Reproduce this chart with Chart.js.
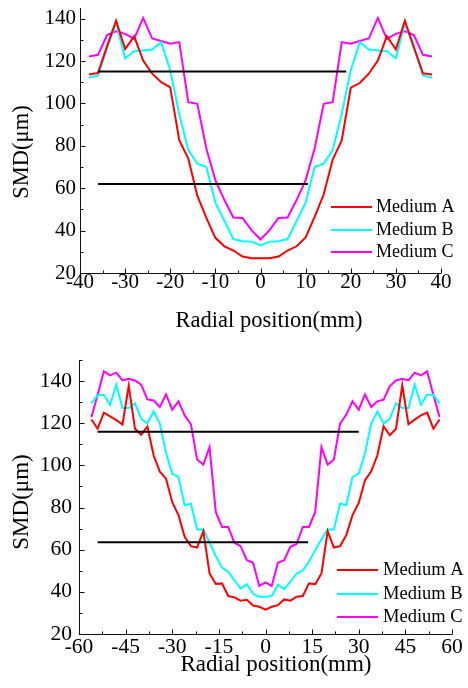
<!DOCTYPE html>
<html>
<head>
<meta charset="utf-8">
<script src="https://cdn.jsdelivr.net/npm/chart.js@4.4.1/dist/chart.umd.min.js"></script>
<style>
  html, body { margin: 0; padding: 0; background: #fff; }
  body { width: 468px; height: 688px; position: relative; overflow: hidden; }
  canvas { position: absolute; left: 0; }
  #chartTop { top: 0; }
  #chartBottom { top: 340px; }
</style>
</head>
<body>
<canvas id="chartTop" width="468" height="340"></canvas>
<canvas id="chartBottom" width="468" height="348"></canvas>
<script>
const seriesNames = ["Medium A", "Medium B", "Medium C"];
const seriesColors = ["#ff0000", "#00ffff", "#ff00ff"];

// upper plot, radial position in mm
const topRadial = [-38, -36, -34, -32, -30, -28, -26, -24, -22, -20, -18, -16, -14, -12, -10, -8, -6, -4, -2, 0,
  2, 4, 6, 8, 10, 12, 14, 16, 18, 20, 22, 24, 26, 28, 30, 32, 34, 36, 38];
const topMediumA = [113.6, 114.4, 127, 139, 125.6, 131.6, 120.2, 114, 110, 107.6, 82.6, 74, 56.5, 46, 36.6, 32.6, 30.6, 27.8, 27, 27,
  27, 27.8, 30.6, 32.6, 36.8, 46.5, 57, 73.5, 82.5, 107.4, 109.6, 114, 120.2, 131.7, 125.4, 139, 126.5, 114.2, 113.6];
const topMediumB = [112.1, 113.2, 126, 137.8, 121.3, 124.6, 125, 125.4, 128.9, 115.5, 95, 78, 71.6, 70, 53.2, 44.5, 36, 35, 34.8, 33,
  34.8, 35, 36, 44.5, 53.2, 70, 71.6, 78, 95, 115.5, 128.9, 125.4, 125, 124.6, 121.3, 137.8, 126, 113.2, 112.1];
const topMediumC = [122.1, 122.9, 132.2, 134, 132.8, 130.4, 140.3, 130.6, 129.4, 128.1, 128.9, 100.6, 99.8, 78.7, 63.8, 54.4, 46.2, 46, 40.2, 35.8,
  40.2, 46, 46.2, 54.4, 63.8, 78.7, 99.8, 100.6, 128.9, 128.1, 129.4, 130.6, 140.3, 130.4, 132.8, 134, 132.2, 122.9, 122.1];
const topRefLevel = [115, 62];
const topRefFrom = [-36, -36];
const topRefTo = [19, 10.5];

// lower plot
const bottomRadial = [-56, -54, -52, -50, -48, -46, -44, -42, -40, -38, -36, -34, -32, -30, -28, -26, -24, -22, -20, -18,
  -16, -14, -12, -10, -8, -6, -4, -2, 0, 2, 4, 6, 8, 10, 12, 14, 16, 18, 20, 22, 24, 26, 28, 30, 32, 34, 36, 38,
  40, 42, 44, 46, 48, 50, 52, 54, 56];
const bottomMediumA = [121.8, 117.4, 125, 123.3, 121.5, 119.4, 137.8, 117.4, 114.5, 118.4, 104.8, 97, 93.7, 82.5, 76.4, 66.1, 61.7, 61, 68.8, 48.7,
  43.7, 44, 38, 37.4, 35.8, 36.2, 33.5, 32.9, 31.5, 32.9, 33.7, 36.4, 35.8, 37.7, 38, 44, 43.6, 48.7, 68.8, 61, 61.7, 66.9, 76.4, 82.2, 92.9, 97.2, 104.8, 118.6,
  114.3, 117.4, 138, 119.5, 121.7, 123.7, 125, 117.4, 121.8];
const bottomMediumB = [129.4, 133.3, 133.5, 128.6, 138.3, 127.2, 127.2, 129.4, 122.2, 119.8, 125.7, 119.8, 106, 96, 94.5, 81.1, 81.9, 69.6, 69.6, 63.5,
  57, 51.5, 49.5, 45.5, 41.5, 43.6, 39, 37.7, 37.7, 38, 43.4, 41.3, 44.8, 48.7, 50.2, 54.3, 59.8, 64.9, 69.6, 69.6, 81.9, 81.1, 94.5, 96.1, 105.6, 119.8, 125.6, 119.8,
  122.2, 129.4, 127.2, 127.2, 138.3, 128.8, 133.5, 133.5, 129.3];
const bottomMediumC = [122.9, 133.5, 144.6, 142.7, 144, 140.3, 141.1, 140.3, 138.3, 131.3, 130.8, 127.7, 133.7, 126.4, 130.4, 123.7, 119.5, 102.8, 100.4, 108.7,
  77.9, 70.8, 70.8, 63.3, 61.7, 55, 53.8, 42.8, 44.5, 42.8, 53.8, 55, 61.4, 62.7, 70.8, 70.8, 77.9, 108.7, 100.4, 102.8, 119.8, 124.1, 130.4, 126.4, 133.7, 127.7, 130.4, 131.2,
  137.6, 140.3, 141.1, 140.3, 144, 142.7, 144.6, 133.5, 122.9];
const bottomRefLevel = [116, 63.5];
const bottomRefFrom = [-54, -54];
const bottomRefTo = [30, 13.7];

const serif = "Liberation Serif";

// axes, inward ticks, titles and the legend box
const smdFrame = {
  id: "smdFrame",
  afterDraw(chart, args, o) {
    const { ctx, chartArea: a, scales } = chart;
    ctx.save();
    ctx.strokeStyle = "#111";
    ctx.lineWidth = 1;
    const L = Math.round(a.left) + 0.5;
    const B = Math.round(a.bottom) + 0.5;
    ctx.beginPath();
    ctx.moveTo(L, a.top);
    ctx.lineTo(L, B);
    ctx.lineTo(a.right, B);
    ctx.stroke();

    const marks = (scale) => {
      const vals = scale.ticks.map((t) => t.value);
      const out = vals.map((v) => [v, 5]);
      const step = vals[1] - vals[0];
      for (let v = vals[0] + step / 2; v <= scale.max; v += step) out.push([v, 3]);
      return out;
    };
    ctx.beginPath();
    marks(scales.x).forEach(([v, len]) => {
      const px = Math.round(scales.x.getPixelForValue(v)) + 0.5;
      ctx.moveTo(px, B);
      ctx.lineTo(px, B - len);
    });
    marks(scales.y).forEach(([v, len]) => {
      const py = Math.round(scales.y.getPixelForValue(v)) + 0.5;
      ctx.moveTo(L, py);
      ctx.lineTo(L + len, py);
    });
    ctx.stroke();

    ctx.fillStyle = "#000";
    ctx.textAlign = "center";
    ctx.textBaseline = "middle";
    ctx.font = `${o.xTitle.size}px "${serif}"`;
    ctx.fillText(o.xTitle.text, o.xTitle.x, o.xTitle.y);
    ctx.save();
    ctx.translate(o.yTitle.x, o.yTitle.y);
    ctx.rotate(-Math.PI / 2);
    ctx.font = `${o.yTitle.size}px "${serif}"`;
    ctx.fillText(o.yTitle.text, 0, 0);
    ctx.restore();

    const lg = o.legend;
    ctx.font = `${lg.size}px "${serif}"`;
    ctx.textAlign = "left";
    ctx.lineWidth = 2;
    seriesNames.forEach((name, i) => {
      const y = lg.rows[i];
      ctx.strokeStyle = seriesColors[i];
      ctx.beginPath();
      ctx.moveTo(lg.x0, y);
      ctx.lineTo(lg.x1, y);
      ctx.stroke();
      ctx.fillText(name, lg.textX, y);
    });
    ctx.restore();
  },
};

function build(canvasId, radial, series, refLevel, refFrom, refTo, cfg) {
  const refSets = refLevel.map((lvl, i) => ({
    label: "",
    data: [{ x: refFrom[i], y: lvl }, { x: refTo[i], y: lvl }],
    borderColor: "#000",
    borderWidth: 2,
    pointRadius: 0,
  }));
  const mediumSets = series.map((vals, i) => ({
    label: seriesNames[i],
    data: radial.map((x, j) => ({ x: x, y: vals[j] })),
    borderColor: seriesColors[i],
    borderWidth: 2,
    pointRadius: 0,
    tension: 0,
  }));
  const tickFont = { family: serif, size: cfg.tickSize, lineHeight: 1 };
  new Chart(document.getElementById(canvasId).getContext("2d"), {
    type: "line",
    data: { datasets: refSets.concat(mediumSets) },
    options: {
      responsive: false,
      animation: false,
      events: [],
      layout: { padding: cfg.padding },
      plugins: {
        legend: { display: false },
        tooltip: { enabled: false },
        smdFrame: cfg.frame,
      },
      scales: {
        x: {
          type: "linear",
          min: cfg.xMin,
          max: cfg.xMax,
          grid: { display: false, drawTicks: false },
          border: { display: false },
          ticks: {
            stepSize: cfg.xStep,
            includeBounds: false,
            autoSkip: false,
            maxRotation: 0,
            color: "#000",
            font: tickFont,
            padding: cfg.xPad,
            callback: (v) => String(v),
          },
          afterFit: (s) => {
            s.height = cfg.xAxisHeight;
            s.paddingLeft = 0;
            s.paddingRight = 0;
          },
        },
        y: {
          min: cfg.yMin,
          max: cfg.yMax,
          grid: { display: false, drawTicks: false },
          border: { display: false },
          ticks: {
            stepSize: 20,
            includeBounds: false,
            color: "#000",
            font: tickFont,
            padding: cfg.yPad,
          },
          afterFit: (s) => {
            s.width = cfg.yAxisWidth;
            s.paddingTop = 0;
            s.paddingBottom = 0;
          },
        },
      },
    },
    plugins: [smdFrame],
  });
}

build("chartTop", topRadial, [topMediumA, topMediumB, topMediumC], topRefLevel, topRefFrom, topRefTo, {
  padding: { top: 8, right: 27, left: 0, bottom: 0 },
  xMin: -40, xMax: 40, xStep: 10, yMin: 20, yMax: 145,
  tickSize: 21, xPad: -1.5, yPad: 4, xAxisHeight: 67, yAxisWidth: 80,
  frame: {
    xTitle: { text: "Radial position(mm)", x: 269, y: 321, size: 22.5 },
    yTitle: { text: "SMD(μm)", x: 22, y: 152, size: 22.5 },
    legend: { x0: 331, x1: 372, textX: 376, rows: [207, 230, 252], size: 18 },
  },
});

build("chartBottom", bottomRadial, [bottomMediumA, bottomMediumB, bottomMediumC], bottomRefLevel, bottomRefFrom, bottomRefTo, {
  padding: { top: 20, right: 16, left: 0, bottom: 0 },
  xMin: -60, xMax: 60, xStep: 15, yMin: 20, yMax: 150,
  tickSize: 21.5, xPad: 3, yPad: 7, xAxisHeight: 54, yAxisWidth: 79,
  frame: {
    xTitle: { text: "Radial position(mm)", x: 276, y: 325, size: 23 },
    yTitle: { text: "SMD(μm)", x: 22, y: 162, size: 23 },
    legend: { x0: 337, x1: 378, textX: 383, rows: [230, 254, 277], size: 18.5 },
  },
});
</script>
</body>
</html>
